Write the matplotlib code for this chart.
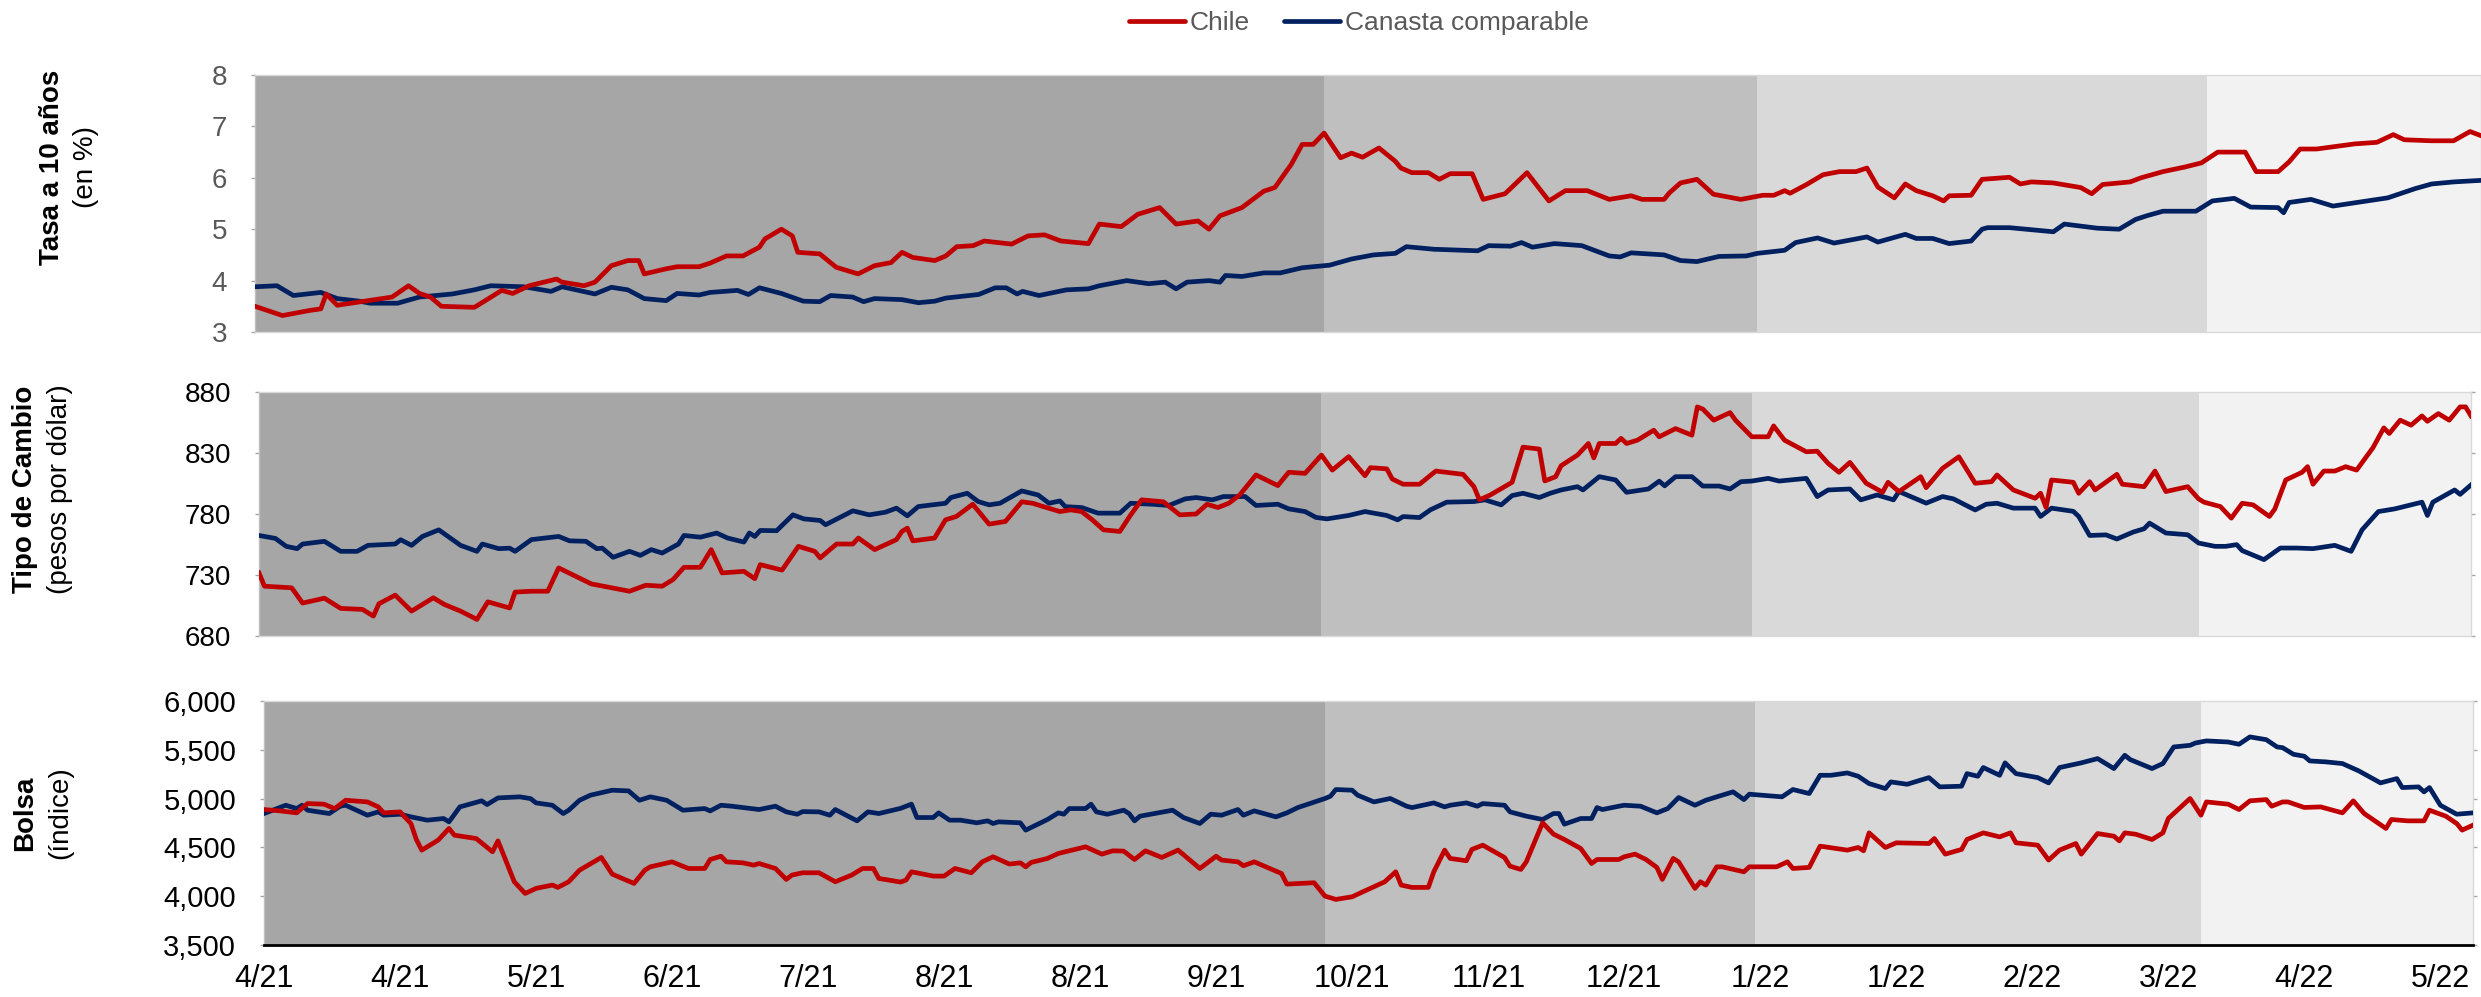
import matplotlib
matplotlib.use("Agg")
import matplotlib.pyplot as plt
from matplotlib.lines import Line2D
from matplotlib.ticker import FuncFormatter

plt.rcParams['font.family'] = ['Liberation Sans', 'DejaVu Sans']

# dias desde el 1/4/2021
tasa_chile_dias = [0, 5, 10, 12, 13, 15, 20, 25, 28, 30, 32, 34, 40, 42, 45, 47, 50, 55, 56, 60,
                   62, 65, 68, 70, 71, 75, 77, 81, 83, 86, 89, 92, 93, 96, 98, 99, 103, 106, 110, 113,
                   116, 118, 120, 124, 126, 128, 131, 133, 138, 141, 144, 147, 152, 154, 158, 161, 165, 168, 172, 174,
                   176, 180, 182, 184, 186, 189, 191, 193, 195, 198, 200, 202, 205, 208, 209, 211, 214, 216, 218, 222,
                   224, 228, 232, 236, 239, 243, 247, 251, 253, 257, 258, 260, 263, 266, 271, 275, 277, 279, 280, 283,
                   286, 289, 292, 294, 296, 299, 301, 303, 306, 308, 309, 313, 315, 320, 322, 324, 328, 333, 335, 337,
                   342, 344, 348, 352, 355, 358, 363, 365, 369, 371, 373, 376, 383, 387, 390, 392, 397, 401, 404, 406]
tasa_chile = [3.50, 3.32, 3.42, 3.45, 3.74, 3.52, 3.60, 3.68, 3.90, 3.75, 3.68, 3.50, 3.48, 3.61, 3.81, 3.75, 3.90, 4.03, 3.97, 3.90,
              3.97, 4.29, 4.39, 4.39, 4.13, 4.23, 4.27, 4.27, 4.34, 4.48, 4.48, 4.65, 4.81, 5.00, 4.87, 4.55, 4.52, 4.26, 4.13, 4.29,
              4.35, 4.55, 4.45, 4.39, 4.48, 4.66, 4.68, 4.77, 4.71, 4.87, 4.89, 4.77, 4.72, 5.10, 5.05, 5.29, 5.42, 5.10, 5.16, 5.00,
              5.26, 5.42, 5.58, 5.74, 5.81, 6.26, 6.65, 6.65, 6.87, 6.39, 6.48, 6.40, 6.58, 6.32, 6.19, 6.10, 6.10, 5.97, 6.08, 6.08,
              5.58, 5.69, 6.10, 5.55, 5.75, 5.75, 5.58, 5.65, 5.58, 5.58, 5.71, 5.90, 5.97, 5.68, 5.58, 5.66, 5.66, 5.75, 5.70, 5.87,
              6.06, 6.12, 6.12, 6.19, 5.82, 5.61, 5.88, 5.75, 5.65, 5.55, 5.65, 5.66, 5.97, 6.01, 5.88, 5.92, 5.90, 5.81, 5.69, 5.87,
              5.92, 6.00, 6.12, 6.21, 6.29, 6.50, 6.50, 6.12, 6.12, 6.31, 6.56, 6.56, 6.66, 6.69, 6.84, 6.74, 6.72, 6.72, 6.90, 6.82]

tasa_canasta_dias = [0, 4, 7, 12, 15, 19, 21, 26, 30, 36, 40, 43, 49, 54, 56, 62, 65, 68, 71, 75,
                     77, 81, 83, 88, 90, 92, 96, 100, 103, 105, 109, 111, 113, 118, 121, 124, 126, 132, 135, 137,
                     139, 140, 143, 148, 152, 154, 159, 163, 166, 168, 170, 174, 176, 177, 180, 184, 187, 191, 196, 200,
                     204, 208, 210, 215, 223, 225, 229, 231, 233, 237, 242, 247, 249, 251, 257, 260, 263, 267, 272, 274,
                     279, 281, 285, 288, 294, 296, 301, 303, 306, 309, 313, 315, 316, 320, 328, 330, 336, 340, 343, 345,
                     348, 354, 357, 361, 364, 369, 370, 371, 375, 379, 384, 389, 394, 397, 401, 406]
tasa_canasta = [3.88, 3.90, 3.71, 3.77, 3.65, 3.60, 3.56, 3.56, 3.68, 3.74, 3.82, 3.90, 3.88, 3.79, 3.88, 3.74, 3.87, 3.82, 3.65, 3.61,
                3.75, 3.72, 3.77, 3.81, 3.73, 3.86, 3.75, 3.60, 3.59, 3.71, 3.68, 3.59, 3.65, 3.63, 3.57, 3.60, 3.66, 3.73, 3.86, 3.86,
                3.74, 3.79, 3.71, 3.82, 3.84, 3.90, 4.00, 3.94, 3.97, 3.84, 3.97, 4.00, 3.97, 4.10, 4.08, 4.15, 4.15, 4.25, 4.30, 4.42,
                4.50, 4.53, 4.66, 4.61, 4.58, 4.68, 4.67, 4.74, 4.65, 4.72, 4.68, 4.48, 4.46, 4.54, 4.50, 4.39, 4.37, 4.47, 4.48, 4.53,
                4.59, 4.74, 4.83, 4.73, 4.85, 4.75, 4.90, 4.82, 4.82, 4.72, 4.77, 5.00, 5.03, 5.03, 4.95, 5.10, 5.02, 5.00, 5.19, 5.26,
                5.35, 5.35, 5.55, 5.60, 5.43, 5.42, 5.32, 5.52, 5.58, 5.45, 5.53, 5.61, 5.79, 5.88, 5.92, 5.95]

tc_chile_dias = [0, 1, 6, 8, 12, 15, 19, 21, 22, 25, 28, 30, 32, 34, 37, 40, 42, 46, 47, 50,
                 53, 55, 61, 68, 71, 74, 76, 78, 81, 83, 85, 89, 91, 92, 96, 99, 102, 103, 106, 109,
                 110, 113, 117, 118, 119, 120, 124, 126, 128, 131, 134, 137, 140, 142, 144, 147, 149, 151, 153, 155,
                 158, 160, 162, 166, 169, 172, 174, 176, 178, 180, 183, 187, 189, 192, 195, 197, 200, 203, 204, 207,
                 208, 210, 213, 216, 221, 223, 224, 226, 230, 232, 235, 236, 238, 239, 242, 244, 245, 246, 249, 250,
                 251, 253, 256, 257, 260, 263, 264, 265, 267, 270, 271, 274, 277, 278, 280, 284, 286, 288, 290, 292,
                 295, 298, 299, 301, 305, 306, 309, 312, 315, 318, 319, 322, 326, 327, 328, 329, 333, 334, 336, 337,
                 341, 342, 346, 348, 350, 354, 356, 357, 360, 362, 364, 366, 369, 370, 372, 375, 376, 377, 379, 381,
                 383, 385, 388, 390, 391, 393, 395, 397, 398, 400, 402, 404, 405, 406]
tc_chile = [731.7, 720.8, 719.5, 707.0, 711.0, 702.6, 701.8, 696.3, 706.4, 713.5, 700.4, 705.9, 711.3, 705.9, 700.4, 693.6, 708.0, 703.0, 716.0, 716.7,
            716.7, 735.8, 722.7, 716.7, 721.6, 720.8, 726.3, 736.3, 736.3, 750.8, 731.7, 733.0, 727.0, 738.5, 734.0, 753.5, 749.4, 744.0, 755.4, 755.4,
            760.3, 750.8, 759.0, 765.7, 768.4, 758.0, 760.3, 775.2, 778.0, 788.0, 771.7, 773.9, 790.0, 788.8, 786.0, 782.0, 783.4, 782.0, 775.0, 767.0,
            765.7, 779.3, 791.6, 790.0, 779.3, 780.0, 788.0, 785.3, 788.8, 795.6, 812.0, 803.3, 814.2, 813.3, 828.3, 816.0, 827.0, 811.4, 818.0, 817.0,
            808.7, 804.4, 804.4, 815.2, 812.5, 802.4, 791.6, 795.6, 806.0, 834.8, 833.2, 807.1, 810.6, 819.6, 828.3, 837.8, 826.0, 837.8, 837.8, 842.0,
            837.8, 840.5, 848.7, 843.3, 850.0, 844.6, 867.8, 866.0, 856.9, 863.1, 856.9, 843.3, 843.3, 852.2, 840.5, 831.0, 831.5, 821.5, 814.2, 822.3,
            805.2, 797.8, 806.0, 798.4, 810.6, 801.6, 817.4, 826.9, 805.2, 806.5, 812.0, 799.7, 792.9, 797.0, 785.3, 807.9, 806.0, 797.0, 806.5, 799.7,
            812.5, 804.4, 802.4, 815.2, 798.4, 802.4, 792.4, 789.7, 786.1, 776.6, 788.8, 787.5, 778.0, 784.2, 807.9, 814.2, 818.8, 804.4, 815.2, 815.2,
            818.8, 816.0, 834.3, 850.6, 846.0, 856.9, 852.8, 860.4, 856.0, 862.3, 856.9, 867.8, 867.8, 860.4]

tc_canasta_dias = [0, 3, 5, 7, 8, 12, 15, 18, 20, 25, 26, 28, 30, 33, 37, 40, 41, 44, 46, 47,
                   50, 55, 57, 60, 62, 63, 65, 68, 70, 72, 74, 77, 78, 81, 84, 86, 89, 90, 91, 92,
                   95, 98, 100, 103, 104, 106, 109, 112, 115, 117, 119, 121, 126, 127, 130, 132, 134, 136, 140, 143,
                   145, 147, 148, 151, 154, 158, 160, 164, 167, 170, 172, 175, 177, 181, 183, 187, 189, 192, 194, 196,
                   200, 203, 207, 209, 210, 213, 215, 218, 223, 225, 228, 230, 232, 235, 237, 239, 242, 243, 246, 249,
                   251, 255, 257, 258, 260, 263, 265, 268, 270, 272, 274, 277, 279, 284, 286, 288, 292, 294, 297, 300,
                   301, 306, 309, 311, 315, 317, 319, 322, 326, 327, 329, 333, 334, 336, 339, 341, 344, 346, 347, 350,
                   354, 356, 359, 361, 363, 364, 368, 371, 374, 377, 381, 384, 386, 389, 392, 397, 398, 399, 403, 404, 406]
tc_canasta = [762.4, 760.0, 753.5, 751.6, 755.4, 757.6, 749.4, 749.4, 754.3, 755.4, 758.9, 754.3, 761.6, 767.0, 754.3, 749.4, 755.4, 751.6, 752.0, 749.4,
              759.0, 761.6, 758.0, 757.6, 751.6, 752.0, 744.5, 749.4, 746.1, 750.8, 748.0, 755.4, 762.4, 761.0, 764.4, 760.3, 757.0, 764.4, 761.6, 766.5,
              766.3, 779.3, 776.0, 774.7, 771.2, 775.8, 782.6, 779.3, 781.5, 784.8, 778.5, 786.1, 788.8, 793.5, 797.0, 790.2, 787.5, 788.8, 798.9, 795.6,
              788.8, 790.7, 786.0, 785.3, 780.7, 780.7, 788.8, 788.0, 787.0, 792.4, 793.5, 791.6, 794.3, 794.3, 787.0, 788.0, 784.2, 782.0, 777.2, 776.0,
              778.8, 782.0, 778.8, 775.2, 777.9, 777.1, 783.4, 789.7, 790.2, 791.6, 787.5, 795.1, 797.0, 793.5, 797.0, 799.7, 802.4, 799.7, 810.6, 807.9,
              797.8, 800.5, 806.9, 803.1, 810.6, 810.6, 802.9, 802.9, 800.5, 806.5, 807.0, 809.2, 807.0, 809.2, 794.3, 799.7, 800.5, 791.6, 795.6, 791.6,
              798.4, 788.9, 794.3, 792.4, 783.3, 788.0, 788.8, 784.8, 784.8, 778.0, 784.8, 782.2, 778.0, 762.4, 762.9, 759.5, 765.2, 767.9, 772.5, 764.4,
              763.0, 756.2, 753.5, 753.5, 754.9, 750.0, 742.6, 752.1, 752.1, 751.6, 754.3, 749.4, 767.0, 782.0, 784.2, 789.7, 778.8, 789.7, 799.7, 796.1, 803.8]

bolsa_chile_dias = [0, 3, 6, 8, 11, 13, 15, 19, 21, 22, 25, 27, 28, 29, 32, 34, 35, 39, 42, 43,
                    46, 48, 50, 53, 54, 56, 58, 62, 64, 68, 70, 71, 75, 78, 81, 82, 84, 85, 88, 90,
                    91, 94, 96, 97, 99, 102, 105, 108, 110, 112, 113, 117, 118, 119, 123, 125, 127, 130, 132, 134,
                    137, 139, 140, 141, 144, 146, 151, 154, 156, 158, 160, 162, 165, 168, 172, 175, 176, 179, 180, 182,
                    187, 188, 193, 195, 197, 200, 202, 206, 208, 209, 211, 214, 215, 217, 218, 221, 222, 224, 228, 229,
                    231, 232, 235, 237, 239, 242, 244, 245, 249, 250, 252, 254, 256, 257, 259, 260, 263, 264, 265, 267,
                    268, 272, 273, 278, 280, 281, 284, 286, 291, 293, 294, 295, 298, 300, 306, 307, 309, 312, 313, 316,
                    319, 321, 322, 326, 328, 330, 333, 334, 337, 340, 341, 342, 344, 347, 349, 350, 354, 356, 357, 361,
                    363, 365, 368, 369, 371, 372, 375, 378, 382, 384, 386, 390, 391, 394, 397, 398, 401, 403, 404, 406]
bolsa_chile = [4888, 4874, 4854, 4949, 4943, 4898, 4983, 4966, 4915, 4854, 4864, 4745, 4581, 4472, 4574, 4694, 4625, 4591, 4455, 4567,
               4148, 4028, 4080, 4114, 4090, 4148, 4267, 4397, 4226, 4131, 4267, 4301, 4352, 4284, 4284, 4376, 4410, 4352, 4342, 4318,
               4335, 4284, 4172, 4216, 4240, 4240, 4148, 4216, 4284, 4284, 4182, 4145, 4165, 4250, 4206, 4206, 4284, 4240, 4352, 4404,
               4329, 4342, 4301, 4346, 4387, 4438, 4506, 4431, 4465, 4462, 4376, 4465, 4397, 4472, 4284, 4410, 4370, 4352, 4312, 4352,
               4233, 4124, 4138, 4001, 3967, 3994, 4046, 4148, 4250, 4114, 4090, 4090, 4250, 4472, 4387, 4363, 4479, 4523, 4397, 4308,
               4274, 4352, 4752, 4636, 4581, 4489, 4335, 4376, 4376, 4404, 4431, 4376, 4295, 4172, 4387, 4352, 4080, 4148, 4114, 4301,
               4301, 4250, 4301, 4301, 4352, 4284, 4295, 4513, 4472, 4499, 4465, 4649, 4499, 4547, 4540, 4591, 4431, 4479, 4581, 4649,
               4608, 4649, 4547, 4523, 4370, 4472, 4540, 4431, 4642, 4615, 4567, 4649, 4635, 4581, 4649, 4796, 5001, 4830, 4966, 4943,
               4888, 4977, 4990, 4922, 4966, 4966, 4909, 4915, 4854, 4977, 4847, 4694, 4786, 4772, 4772, 4881, 4820, 4745, 4677, 4728]

bolsa_canasta_dias = [0, 4, 6, 7, 8, 12, 14, 15, 19, 21, 22, 25, 27, 30, 33, 34, 36, 40, 41, 43,
                      47, 49, 50, 53, 55, 56, 58, 60, 64, 67, 69, 71, 74, 77, 81, 82, 84, 86, 91, 94,
                      96, 98, 99, 102, 104, 105, 109, 111, 113, 117, 119, 120, 123, 124, 126, 128, 131, 133, 134, 135,
                      139, 140, 144, 146, 147, 148, 151, 152, 153, 155, 158, 159, 160, 161, 167, 169, 172, 174, 176, 179,
                      180, 182, 186, 188, 190, 195, 196, 197, 200, 201, 204, 207, 210, 211, 215, 217, 218, 221, 223, 224,
                      228, 229, 232, 235, 237, 238, 239, 242, 244, 245, 246, 249, 250, 253, 256, 258, 260, 263, 265, 267,
                      270, 272, 273, 279, 281, 284, 286, 288, 291, 293, 295, 298, 299, 302, 306, 308, 312, 313, 315, 316,
                      319, 320, 322, 326, 328, 330, 334, 337, 340, 342, 343, 347, 349, 351, 354, 355, 357, 361, 363, 365,
                      368, 370, 371, 373, 375, 376, 379, 382, 385, 389, 392, 393, 396, 397, 398, 400, 403, 406]
bolsa_canasta = [4847, 4932, 4898, 4932, 4881, 4847, 4922, 4932, 4830, 4864, 4830, 4840, 4813, 4779, 4796, 4762, 4915, 4977, 4939, 5007,
                 5018, 5000, 4956, 4932, 4847, 4881, 4983, 5035, 5086, 5079, 4983, 5018, 4983, 4881, 4898, 4874, 4932, 4922, 4888, 4922,
                 4864, 4840, 4867, 4864, 4830, 4888, 4772, 4864, 4847, 4900, 4943, 4806, 4806, 4854, 4779, 4779, 4752, 4772, 4745, 4762,
                 4752, 4677, 4786, 4854, 4840, 4898, 4898, 4943, 4864, 4840, 4881, 4847, 4772, 4820, 4881, 4806, 4745, 4840, 4830, 4888,
                 4830, 4874, 4813, 4854, 4908, 5001, 5024, 5093, 5086, 5035, 4966, 5001, 4922, 4908, 4956, 4915, 4932, 4956, 4922, 4949,
                 4932, 4864, 4820, 4786, 4847, 4847, 4738, 4796, 4796, 4908, 4888, 4922, 4932, 4922, 4854, 4898, 5011, 4932, 4983, 5018,
                 5069, 4990, 5045, 5018, 5093, 5052, 5239, 5239, 5263, 5229, 5154, 5103, 5171, 5147, 5215, 5120, 5127, 5256, 5229, 5318,
                 5239, 5366, 5256, 5215, 5161, 5318, 5366, 5410, 5308, 5444, 5400, 5308, 5359, 5529, 5546, 5570, 5591, 5580, 5557, 5632,
                 5604, 5529, 5522, 5454, 5434, 5386, 5376, 5359, 5284, 5161, 5205, 5113, 5120, 5069, 5113, 4932, 4840, 4854]

etiquetas_x = ["4/21", "4/21", "5/21", "6/21", "7/21", "8/21", "8/21", "9/21", "10/21",
               "11/21", "12/21", "1/22", "1/22", "2/22", "3/22", "4/22", "5/22"]
paso_ticks = 25
dia_final = 406

limites_fases = [0, 195, 274, 356, 406]
colores_fases = ['#A6A6A6', '#BFBFBF', '#D9D9D9', '#F2F2F2']

ROJO = '#C00000'
AZUL = '#002060'
W, H = 2481, 997

fig = plt.figure(figsize=(W / 100, H / 100), dpi=100)


def panel(rect_px, dias1, val1, dias2, val2, ylim, ytick_step, color_ticks, fmt=None):
    l, r, t, b = rect_px
    ax = fig.add_axes([l / W, 1 - b / H, (r - l) / W, (b - t) / H])
    for i in range(len(colores_fases)):
        ax.axvspan(limites_fases[i], limites_fases[i + 1], color=colores_fases[i], lw=0, zorder=0)
    ax.plot(dias2, val2, color=AZUL, lw=3.4, zorder=3, solid_joinstyle='round')
    ax.plot(dias1, val1, color=ROJO, lw=3.4, zorder=4, solid_joinstyle='round')
    ax.set_xlim(0, dia_final)
    ax.set_ylim(*ylim)
    ticks = []
    v = ylim[0]
    while v <= ylim[1] + 1e-9:
        ticks.append(v)
        v += ytick_step
    ax.set_yticks(ticks)
    if fmt:
        ax.yaxis.set_major_formatter(FuncFormatter(fmt))
    ax.tick_params(axis='y', labelsize=20, colors='#A6A6A6', labelcolor=color_ticks,
                   length=3, width=1, pad=17)
    for s in ax.spines.values():
        s.set_color('#D9D9D9')
        s.set_linewidth(1)
    ax.spines['left'].set_color('#BFBFBF')
    return ax


ax1 = panel((255, 2481, 75, 332), tasa_chile_dias, tasa_chile, tasa_canasta_dias, tasa_canasta,
            (3, 8), 1, '#595959')
ax1.set_xticks([])

ax2 = panel((259, 2471, 392, 636), tc_chile_dias, tc_chile, tc_canasta_dias, tc_canasta,
            (680, 880), 50, 'black')
ax2.set_xticks([])
ax2.tick_params(axis='y', right=True, labelright=False)

ax3 = panel((264, 2473, 701, 945), bolsa_chile_dias, bolsa_chile, bolsa_canasta_dias, bolsa_canasta,
            (3500, 6000), 500, 'black', fmt=lambda v, p: f"{int(v):,}")
ax3.tick_params(axis='y', right=True, labelright=False, labelsize=21)
ax3.spines['bottom'].set_color('black')
ax3.spines['bottom'].set_linewidth(2)
ax3.set_xticks(range(0, paso_ticks * len(etiquetas_x), paso_ticks))
ax3.set_xticklabels(etiquetas_x)
ax3.tick_params(axis='x', length=0, labelsize=22, pad=14)

# titulos de los ejes
titulos = [("Tasa a 10 años", "(en %)", 52, 86, 167),
           ("Tipo de Cambio", "(pesos por dólar)", 25, 60, 489),
           ("Bolsa", "(índice)", 25, 60, 813)]
for t1, t2, x1, x2, yc in titulos:
    fig.text(x1 / W, 1 - yc / H, t1, rotation=90, ha='center', va='center',
             fontsize=20, fontweight='bold')
    fig.text(x2 / W, 1 - yc / H, t2, rotation=90, ha='center', va='center', fontsize=20)

handles = [Line2D([], [], color=ROJO, lw=3.4, solid_capstyle='round'),
           Line2D([], [], color=AZUL, lw=3.4, solid_capstyle='round')]
fig.legend(handles, ["Chile", "Canasta comparable"], loc='center', bbox_to_anchor=(1359 / W, 1 - 23 / H),
           ncol=2, frameon=False, fontsize=19, labelcolor='#595959', handlelength=2.1,
           handletextpad=0.2, columnspacing=1.3, borderpad=0, borderaxespad=0)

fig.savefig("out.png", dpi=100)
